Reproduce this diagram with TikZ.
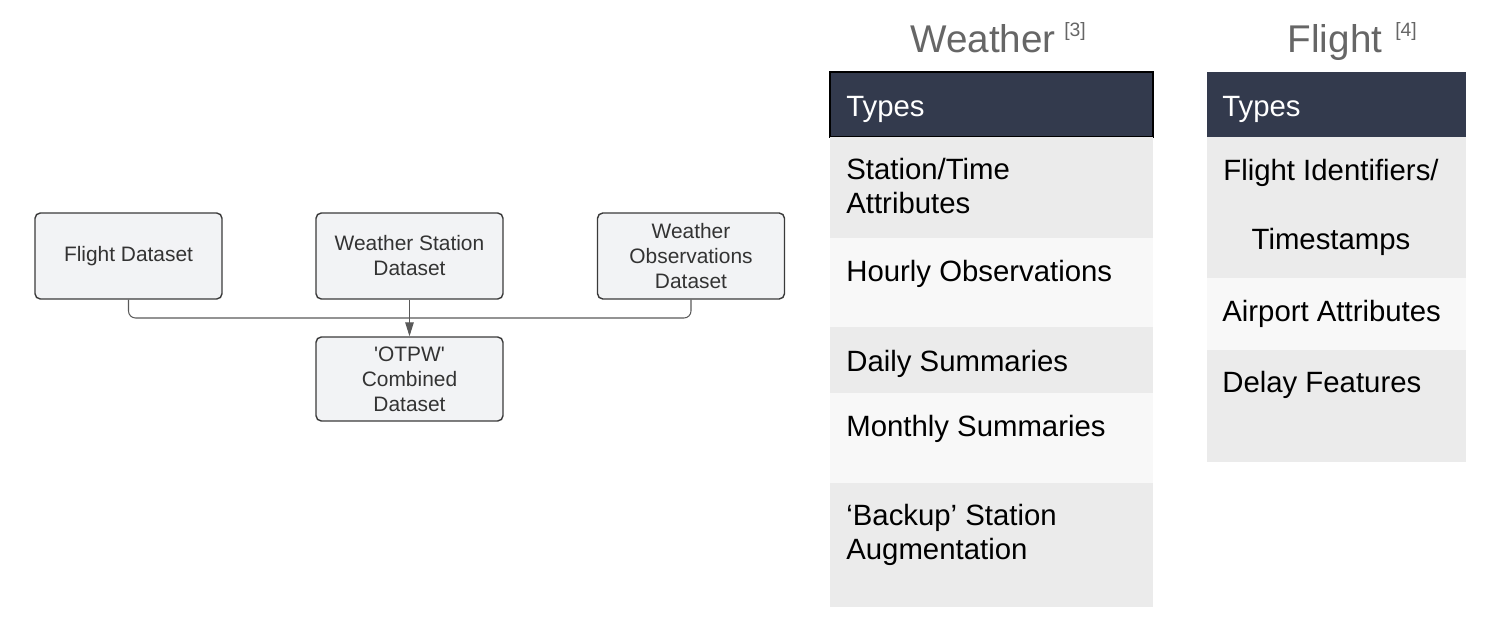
\documentclass[tikz,border=0pt]{standalone}
\usepackage{fontspec}
\setmainfont{Liberation Sans}
\usetikzlibrary{arrows.meta,positioning}

\definecolor{boxfill}{HTML}{F2F3F5}
\definecolor{boxline}{HTML}{3A3A3A}
\definecolor{headfill}{HTML}{333A4D}
\definecolor{rowdark}{HTML}{EBEBEB}
\definecolor{rowlight}{HTML}{F8F8F8}
\definecolor{titlegray}{HTML}{666666}

\tikzset{
  dataset/.style={draw=boxline, fill=boxfill, line width=0.8pt, rounded corners=3pt,
    minimum width=3.74cm, minimum height=1.72cm, align=center, text=black!80,
    font=\fontsize{11.9}{14.2}\selectfont},
  rowtext/.style={anchor=base west, align=left, inner sep=0pt, font=\fontsize{16.7}{19.4}\selectfont},
  headtext/.style={rowtext, text=white},
  title/.style={anchor=base, inner sep=0pt, text=titlegray, font=\fontsize{22}{26}\selectfont},
  titleref/.style={anchor=base west, inner sep=0pt, text=titlegray, font=\fontsize{11}{13}\selectfont},
  link/.style={draw=black!65, line width=0.6pt},
}

\begin{document}
\begin{tikzpicture}[x=0.02cm,y=-0.02cm]
        \useasboundingbox (0,0) rectangle (1502,638);

        % datasets
        \node[dataset] (flight) at (128.5,256) {Flight Dataset};
        \node[dataset] (station) at (409.5,256) {Weather Station\\Dataset};
        \node[dataset, text depth=0pt] (obs) at (691,256) {Weather\\Observations\\Dataset};
        \node[dataset, minimum height=1.68cm] (otpw) at (409.5,379) {\textquotesingle OTPW\textquotesingle\\Combined\\Dataset};

        % connectors
        \coordinate (join) at (409.5,318);
        \draw[link, rounded corners=4pt] (flight.south) |- (join) -| (obs.south);
        \draw[link, -{Triangle[length=2.8mm,width=1.7mm]}] (station.south) -- (otpw.north);

        % weather table
        \fill[headfill] (830,72) rectangle (1153,137);
        \draw[black, line width=1.1pt] (830,72) rectangle (1153,137);
        \fill[rowdark] (830,137) rectangle (1153,238);
        \fill[rowlight] (830,238) rectangle (1153,327);
        \fill[rowdark] (830,327) rectangle (1153,393);
        \fill[rowlight] (830,393) rectangle (1153,483);
        \fill[rowdark] (830,483) rectangle (1153,607);

        \node[title] (wtitle) at (983,53) {Weather};
        \node[titleref] (wref) at (1064,37) {[3]};
        \node[headtext] (wtypes) at (846,117) {Types};
        \node[rowtext] (wstation) at (846,214) {Station/Time\\Attributes};
        \node[rowtext] (whourly) at (846,282) {Hourly Observations};
        \node[rowtext] (wdaily) at (846,372) {Daily Summaries};
        \node[rowtext] (wmonthly) at (846,437) {Monthly Summaries};
        \node[rowtext] (wbackup) at (846,560) {‘Backup’ Station\\Augmentation};

        % flight table
        \fill[headfill] (1207,72) rectangle (1466,137);
        \fill[rowdark] (1207,137) rectangle (1466,278);
        \fill[rowlight] (1207,278) rectangle (1466,350);
        \fill[rowdark] (1207,350) rectangle (1466,462);

        \node[title] (ftitle) at (1335,53) {Flight};
        \node[titleref] (fref) at (1395,37) {[4]};
        \node[headtext] (ftypes) at (1222,117) {Types};
        \node[rowtext, anchor=base, align=center] (fids) at (1331,250) {Flight Identifiers/\\[20pt]Timestamps};
        \node[rowtext] (fairport) at (1222,322) {Airport Attributes};
        \node[rowtext] (fdelay) at (1222,393) {Delay Features};
\end{tikzpicture}
\end{document}
